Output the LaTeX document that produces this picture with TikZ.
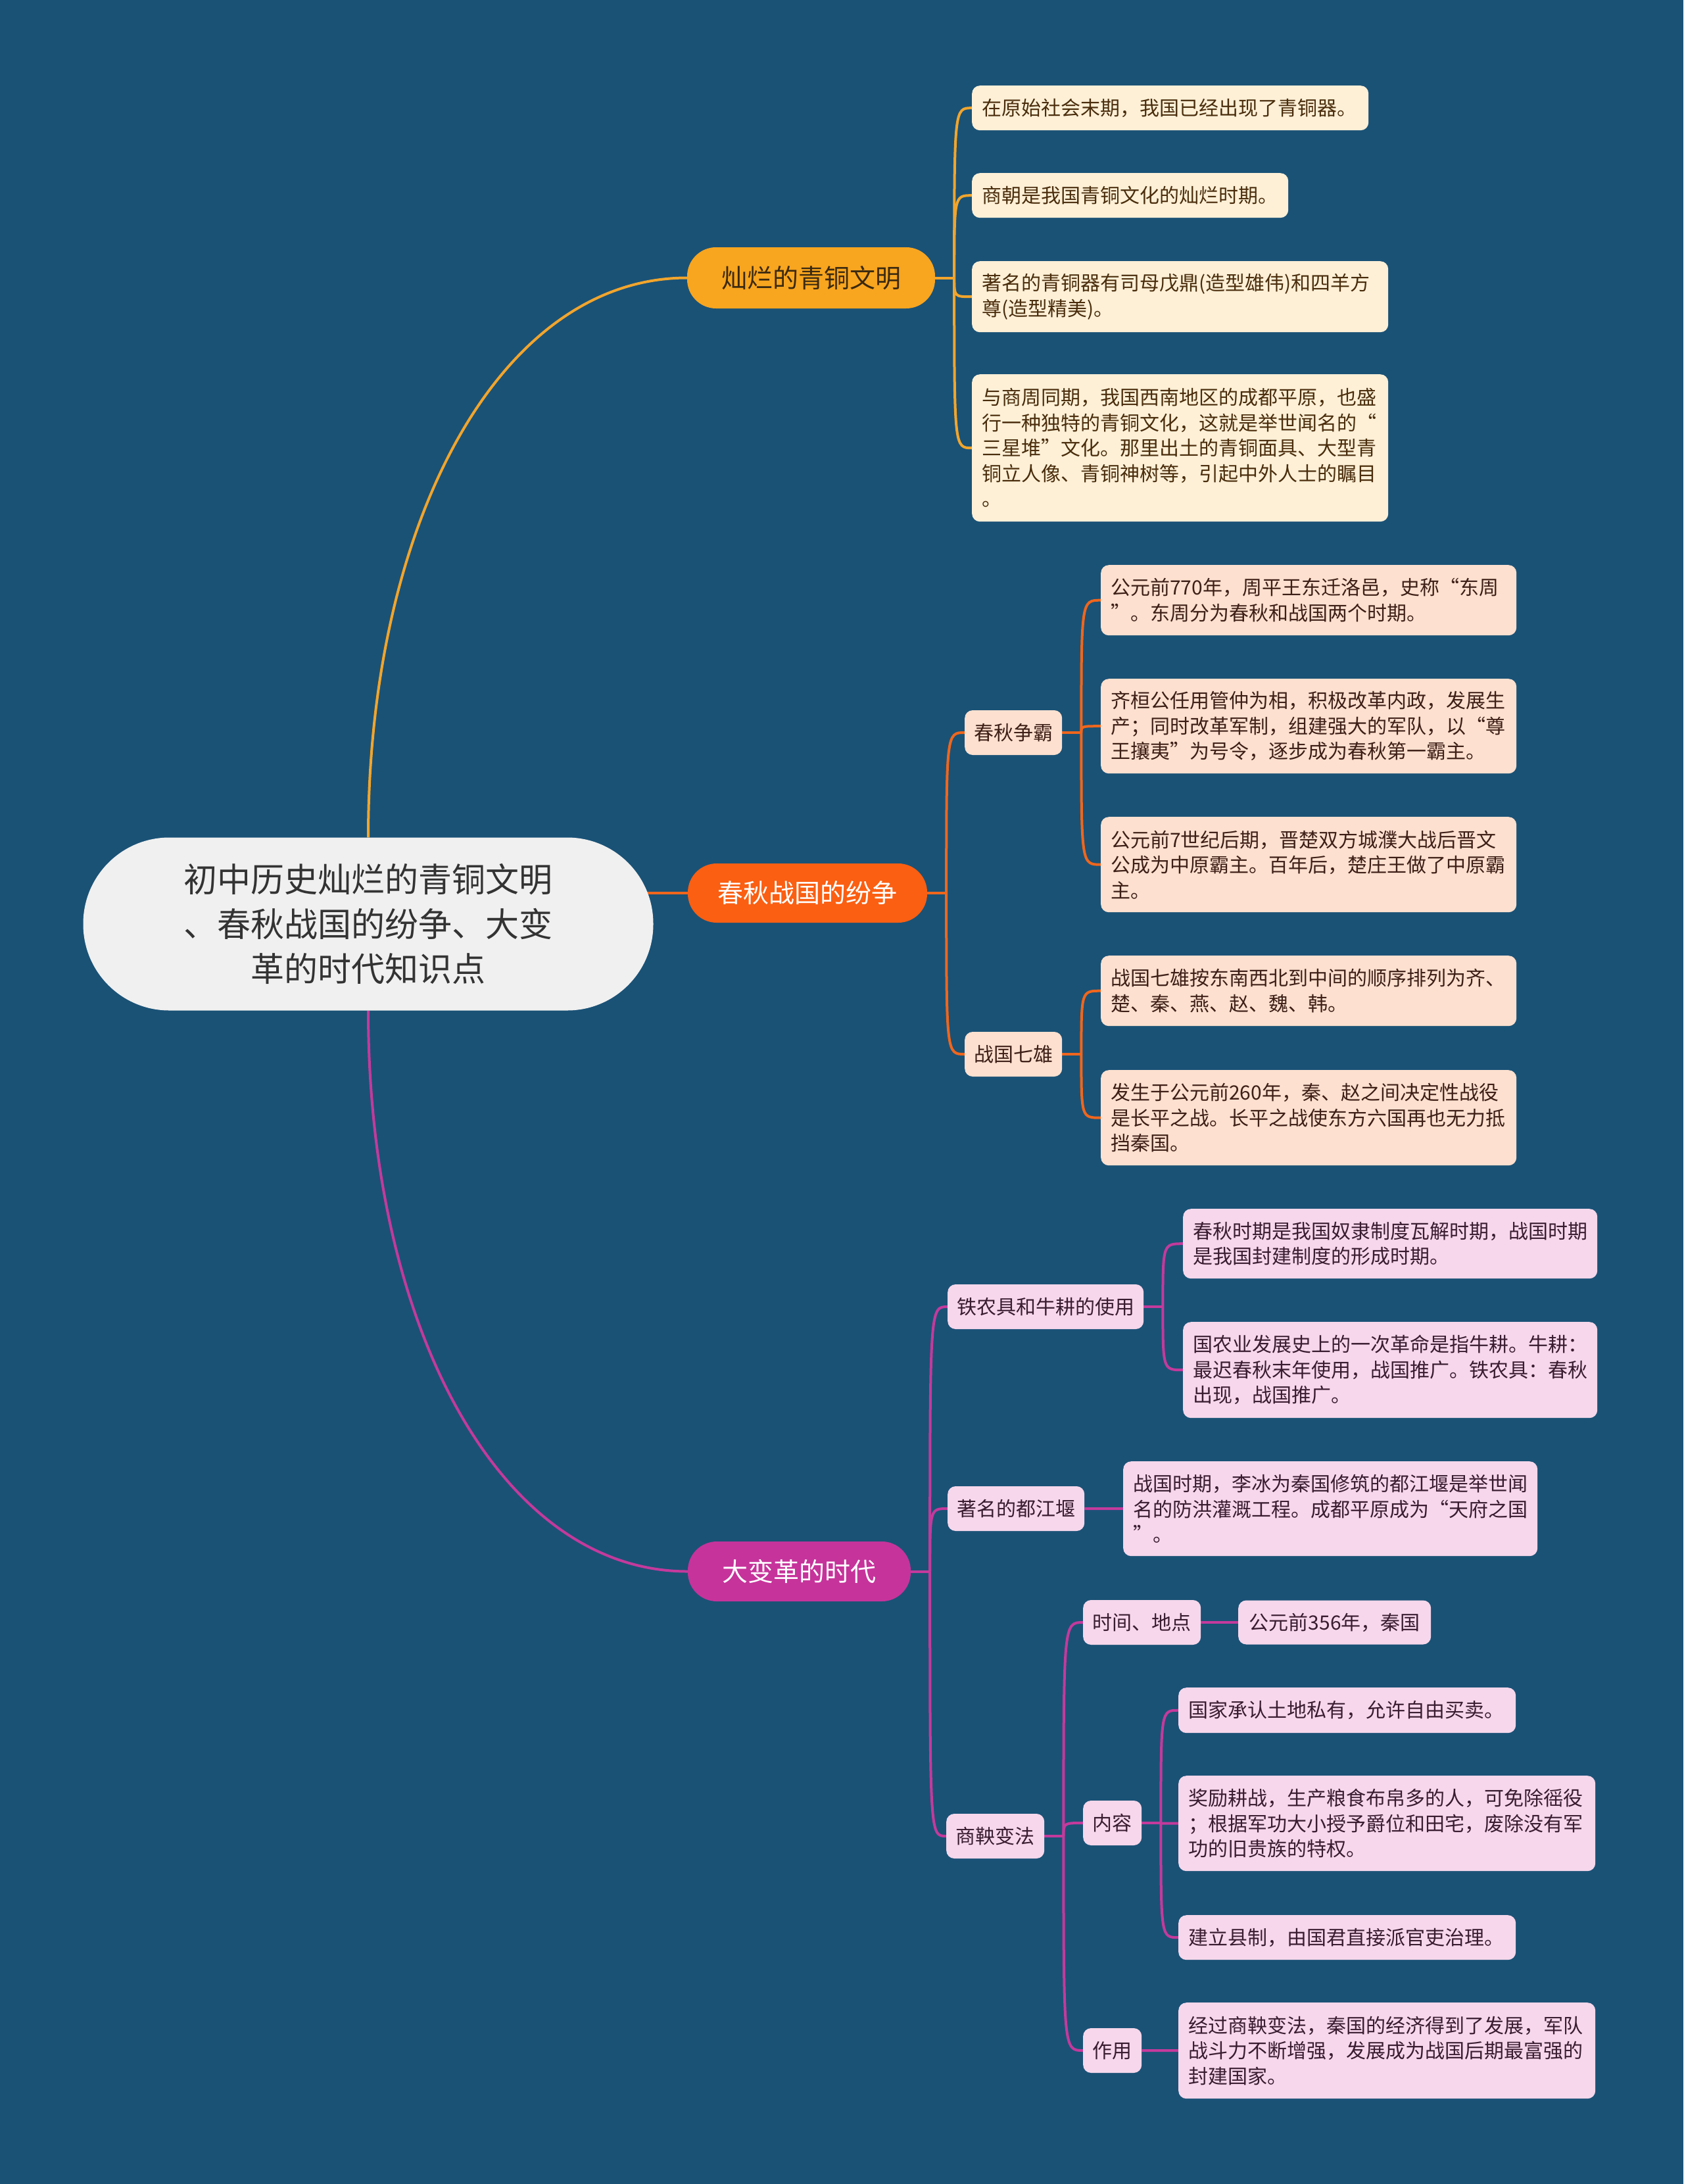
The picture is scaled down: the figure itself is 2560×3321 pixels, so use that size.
\documentclass[tikz,border=0pt]{standalone}
\usepackage{fontspec}
\setmainfont{Noto Sans CJK SC}
\usetikzlibrary{calc}
\definecolor{bg}{HTML}{1A5276}
\definecolor{rootfill}{HTML}{F0F0F0}
\definecolor{roottxt}{HTML}{333333}
\definecolor{lc1}{HTML}{F2A52C}
\definecolor{lc2}{HTML}{F0661C}
\definecolor{lc3}{HTML}{C43A9C}
\definecolor{n1fill}{HTML}{F8A51F}
\definecolor{n1txt}{HTML}{3B2A10}
\definecolor{n2fill}{HTML}{FA5F12}
\definecolor{n3fill}{HTML}{C6339B}
\definecolor{cream}{HTML}{FDF0D7}
\definecolor{creamtxt}{HTML}{4A2D0C}
\definecolor{salmon}{HTML}{FDE0CF}
\definecolor{salmontxt}{HTML}{3E1F17}
\definecolor{pink}{HTML}{F6D7EB}
\definecolor{pinktxt}{HTML}{3A1C30}
\pgfdeclarelayer{back}
\pgfdeclarelayer{links}
\pgfsetlayers{back,links,main}
\newcommand\stub[2]{\draw[conn,#2] (#1.east) -- ++(29,0);}
\newcommand\kid[3]{\draw[conn,#3] let \p1=(#1.east), \p2=(#2.west) in (\x1+29pt,\y1) .. controls (\x1+29pt,\y2) and (\x1+29pt,\y2) .. (\p2);}
\begin{document}
\begin{tikzpicture}[x=1pt,y=-1pt,
  conn/.style={line width=4pt},
  leaf/.style={rounded corners=12, inner xsep=15pt, inner ysep=0pt, align=left, anchor=north west, font=\fontsize{30}{38.5}\selectfont},
  midbox/.style={rounded corners=12, inner xsep=14pt, inner ysep=0pt, anchor=west, minimum height=68, font=\fontsize{30}{36}\selectfont},
  lone/.style={rounded corners=44, inner sep=0pt, font=\fontsize{39}{46}\selectfont}]
\begin{pgfonlayer}{back}
\fill[bg] (0,0) rectangle (2560,3321);
\end{pgfonlayer}
\useasboundingbox (0,0) rectangle (2560,3321);

% root
\node[fill=rootfill, text=roottxt, rounded corners=131, minimum width=867, minimum height=263, align=center, inner sep=0pt, font=\fontsize{51}{68}\selectfont] (root) at (560,1405) {初中历史灿烂的青铜文明\\、春秋战国的纷争、大变\\革的时代知识点};

% level 1
\node[lone, fill=n1fill, text=n1txt, minimum width=377, minimum height=93] (n1) at (1233.5,422.5) {灿烂的青铜文明};
\node[lone, fill=n2fill, text=white, minimum width=364, minimum height=90] (n2) at (1228,1358) {春秋战国的纷争};
\node[lone, fill=n3fill, text=white, minimum width=339, minimum height=91] (n3) at (1215.5,2389.5) {大变革的时代};

% bronze subtree
\node[leaf, fill=cream, text=creamtxt, text width=573pt, minimum height=68] (a1) at (1478,130) {在原始社会末期，我国已经出现了青铜器。};
\node[leaf, fill=cream, text=creamtxt, text width=451pt, minimum height=68] (a2) at (1478,263) {商朝是我国青铜文化的灿烂时期。};
\node[leaf, fill=cream, text=creamtxt, text width=603pt, minimum height=108] (a3) at (1478,397) {著名的青铜器有司母戊鼎(造型雄伟)和四羊方\\尊(造型精美)。};
\node[leaf, fill=cream, text=creamtxt, text width=603pt, minimum height=224] (a4) at (1478,569) {与商周同期，我国西南地区的成都平原，也盛\\行一种独特的青铜文化，这就是举世闻名的“\\三星堆”文化。那里出土的青铜面具、大型青\\铜立人像、青铜神树等，引起中外人士的瞩目\\。};

% spring-autumn subtree
\node[midbox, fill=salmon, text=salmontxt, minimum width=148] (s1) at (1467,1114) {春秋争霸};
\node[midbox, fill=salmon, text=salmontxt, minimum width=148] (s2) at (1467,1603) {战国七雄};
\node[leaf, fill=salmon, text=salmontxt, text width=602pt, minimum height=107] (b1) at (1674,859) {公元前770年，周平王东迁洛邑，史称“东周\\”。东周分为春秋和战国两个时期。};
\node[leaf, fill=salmon, text=salmontxt, text width=602pt, minimum height=144] (b2) at (1674,1032) {齐桓公任用管仲为相，积极改革内政，发展生\\产；同时改革军制，组建强大的军队，以“尊\\王攘夷”为号令，逐步成为春秋第一霸主。};
\node[leaf, fill=salmon, text=salmontxt, text width=602pt, minimum height=145] (b3) at (1674,1242) {公元前7世纪后期，晋楚双方城濮大战后晋文\\公成为中原霸主。百年后，楚庄王做了中原霸\\主。};
\node[leaf, fill=salmon, text=salmontxt, text width=602pt, minimum height=107] (b4) at (1674,1453) {战国七雄按东南西北到中间的顺序排列为齐、\\楚、秦、燕、赵、魏、韩。};
\node[leaf, fill=salmon, text=salmontxt, text width=602pt, minimum height=145] (b5) at (1674,1627) {发生于公元前260年，秦、赵之间决定性战役\\是长平之战。长平之战使东方六国再也无力抵\\挡秦国。};

% great change subtree
\node[midbox, fill=pink, text=pinktxt, minimum width=297] (p1) at (1441,1987) {铁农具和牛耕的使用};
\node[midbox, fill=pink, text=pinktxt, minimum width=206] (p2) at (1441,2294) {著名的都江堰};
\node[midbox, fill=pink, text=pinktxt, minimum width=149] (p3) at (1439,2792) {商鞅变法};
\node[leaf, fill=pink, text=pinktxt, text width=600pt, minimum height=106] (c1) at (1799,1838) {春秋时期是我国奴隶制度瓦解时期，战国时期\\是我国封建制度的形成时期。};
\node[leaf, fill=pink, text=pinktxt, text width=600pt, minimum height=146] (c2) at (1799,2010) {国农业发展史上的一次革命是指牛耕。牛耕：\\最迟春秋末年使用，战国推广。铁农具：春秋\\出现，战国推广。};
\node[leaf, fill=pink, text=pinktxt, text width=600pt, minimum height=144] (c3) at (1708,2222) {战国时期，李冰为秦国修筑的都江堰是举世闻\\名的防洪灌溉工程。成都平原成为“天府之国\\”。};
\node[midbox, fill=pink, text=pinktxt, minimum width=179] (q1) at (1647,2467) {时间、地点};
\node[midbox, fill=pink, text=pinktxt, minimum width=89] (q2) at (1647,2772) {内容};
\node[midbox, fill=pink, text=pinktxt, minimum width=89] (q3) at (1647,3118) {作用};
\node[midbox, fill=pink, text=pinktxt, minimum width=293, minimum height=67] (r0) at (1883,2467) {公元前356年，秦国};
\node[leaf, fill=pink, text=pinktxt, text width=483pt, minimum height=69] (d1) at (1792,2566) {国家承认土地私有，允许自由买卖。};
\node[leaf, fill=pink, text=pinktxt, text width=604pt, minimum height=145] (d2) at (1792,2700) {奖励耕战，生产粮食布帛多的人，可免除徭役\\；根据军功大小授予爵位和田宅，废除没有军\\功的旧贵族的特权。};
\node[leaf, fill=pink, text=pinktxt, text width=483pt, minimum height=68] (d3) at (1792,2912) {建立县制，由国君直接派官吏治理。};
\node[leaf, fill=pink, text=pinktxt, text width=604pt, minimum height=146] (d4) at (1792,3045) {经过商鞅变法，秦国的经济得到了发展，军队\\战斗力不断增强，发展成为战国后期最富强的\\封建国家。};

\begin{pgfonlayer}{links}
\draw[conn,lc1] (root.north) .. controls ($(root.north)!0.56!(root.north|-n1.west)$) and ($(n1.west)!0.59!(root.north|-n1.west)$) .. (n1.west);
\draw[conn,lc2] (root.center |- n2.west) -- (n2.west);
\draw[conn,lc3] (root.south) .. controls ($(root.south)!0.56!(root.south|-n3.west)$) and ($(n3.west)!0.59!(root.south|-n3.west)$) .. (n3.west);
\stub{n1}{lc1}
\kid{n1}{a1}{lc1}
\kid{n1}{a2}{lc1}
\kid{n1}{a3}{lc1}
\kid{n1}{a4}{lc1}
\stub{n2}{lc2}
\kid{n2}{s1}{lc2}
\kid{n2}{s2}{lc2}
\stub{s1}{lc2}
\kid{s1}{b1}{lc2}
\kid{s1}{b2}{lc2}
\kid{s1}{b3}{lc2}
\stub{s2}{lc2}
\kid{s2}{b4}{lc2}
\kid{s2}{b5}{lc2}
\stub{n3}{lc3}
\kid{n3}{p1}{lc3}
\kid{n3}{p2}{lc3}
\kid{n3}{p3}{lc3}
\stub{p1}{lc3}
\kid{p1}{c1}{lc3}
\kid{p1}{c2}{lc3}
\draw[conn,lc3] (p2.east) -- (c3.west);
\stub{p3}{lc3}
\kid{p3}{q1}{lc3}
\kid{p3}{q2}{lc3}
\kid{p3}{q3}{lc3}
\draw[conn,lc3] (q1.east) -- (r0.west);
\stub{q2}{lc3}
\kid{q2}{d1}{lc3}
\kid{q2}{d2}{lc3}
\kid{q2}{d3}{lc3}
\draw[conn,lc3] (q3.east) -- (d4.west);
\end{pgfonlayer}
\end{tikzpicture}
\end{document}
